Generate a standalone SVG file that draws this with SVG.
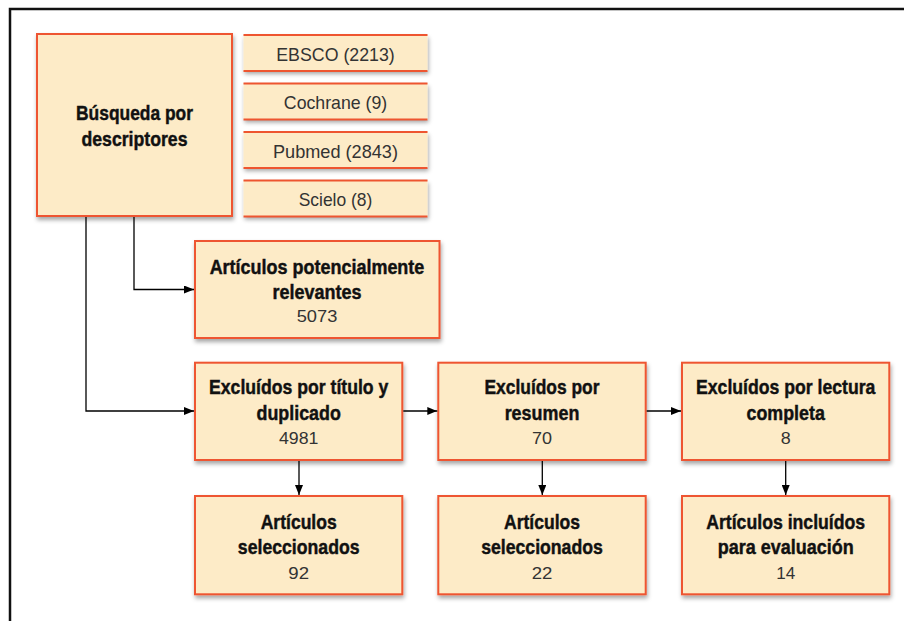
<svg xmlns="http://www.w3.org/2000/svg" width="904" height="621" viewBox="0 0 904 621">
<defs>
<filter id="sh" x="-10%" y="-10%" width="125%" height="130%">
<feDropShadow dx="1" dy="3" stdDeviation="2" flood-color="#000" flood-opacity="0.35"/>
</filter>
<marker id="ah" viewBox="0 0 10 8" refX="10" refY="4" markerWidth="10" markerHeight="8" markerUnits="userSpaceOnUse" orient="auto">
<path d="M0,0 L10,4 L0,8 Z" fill="#000"/>
</marker>
<style>
.box{fill:#FDEBC7;stroke:#EE5530;stroke-width:2;filter:url(#sh)}
.sbox{fill:#FDEBC7;filter:url(#sh)}
.edge{stroke:#EE5530;stroke-width:2}
.b{font-family:"Liberation Sans",Arial,sans-serif;font-weight:bold;font-size:20.5px;fill:#111;stroke:#111;stroke-width:0.45;text-anchor:middle}
.n{font-family:"Liberation Sans",Arial,sans-serif;font-size:17px;fill:#333;text-anchor:middle}
.s{font-size:18.5px}
.c{fill:none;stroke:#000;stroke-width:1.3}
</style>
</defs>
<rect width="904" height="621" fill="#fff"/>
<path d="M10,621 V9 H904" fill="none" stroke="#111" stroke-width="2.5"/>

<g id="busqueda">
<rect class="box" x="37" y="34" width="195" height="182"/>
<text class="b" x="134.5" y="120" textLength="117" lengthAdjust="spacingAndGlyphs">Búsqueda por</text>
<text class="b" x="134.5" y="145.5" textLength="106" lengthAdjust="spacingAndGlyphs">descriptores</text>
</g>

<g id="ebsco">
<rect class="sbox" x="243.5" y="34.5" width="184" height="36.5"/>
<line class="edge" x1="243.5" y1="35" x2="427.5" y2="35"/>
<line class="edge" x1="243.5" y1="71" x2="427.5" y2="71"/>
<text class="n s" x="335.5" y="60.5" textLength="118.5" lengthAdjust="spacingAndGlyphs">EBSCO (2213)</text>
</g>
<g id="cochrane">
<rect class="sbox" x="243.5" y="83" width="184" height="36.5"/>
<line class="edge" x1="243.5" y1="83.5" x2="427.5" y2="83.5"/>
<line class="edge" x1="243.5" y1="119.5" x2="427.5" y2="119.5"/>
<text class="n s" x="335.5" y="109.3" textLength="103.3" lengthAdjust="spacingAndGlyphs">Cochrane (9)</text>
</g>
<g id="pubmed">
<rect class="sbox" x="243.5" y="131.5" width="184" height="36.5"/>
<line class="edge" x1="243.5" y1="132" x2="427.5" y2="132"/>
<line class="edge" x1="243.5" y1="168" x2="427.5" y2="168"/>
<text class="n s" x="335.5" y="158" textLength="125" lengthAdjust="spacingAndGlyphs">Pubmed (2843)</text>
</g>
<g id="scielo">
<rect class="sbox" x="243.5" y="180" width="184" height="36.5"/>
<line class="edge" x1="243.5" y1="180.5" x2="427.5" y2="180.5"/>
<line class="edge" x1="243.5" y1="216.5" x2="427.5" y2="216.5"/>
<text class="n s" x="335.5" y="206" textLength="73.7" lengthAdjust="spacingAndGlyphs">Scielo (8)</text>
</g>

<g id="relevantes">
<rect class="box" x="195" y="241" width="244.5" height="97"/>
<text class="b" x="317" y="274.3" textLength="214.7" lengthAdjust="spacingAndGlyphs">Artículos potencialmente</text>
<text class="b" x="317" y="299.3" textLength="89" lengthAdjust="spacingAndGlyphs">relevantes</text>
<text class="n" x="317" y="322.3" textLength="40.6" lengthAdjust="spacingAndGlyphs">5073</text>
</g>

<g id="excl-titulo">
<rect class="box" x="195" y="362.7" width="207.3" height="97.3"/>
<text class="b" x="298.7" y="394.3" textLength="179.3" lengthAdjust="spacingAndGlyphs">Excluídos por título y</text>
<text class="b" x="298.7" y="420" textLength="84.3" lengthAdjust="spacingAndGlyphs">duplicado</text>
<text class="n" x="298.7" y="444.3" textLength="39.4" lengthAdjust="spacingAndGlyphs">4981</text>
</g>
<g id="excl-resumen">
<rect class="box" x="438.3" y="362.7" width="207.4" height="97.3"/>
<text class="b" x="542" y="394.3" textLength="115" lengthAdjust="spacingAndGlyphs">Excluídos por</text>
<text class="b" x="542" y="420" textLength="74.7" lengthAdjust="spacingAndGlyphs">resumen</text>
<text class="n" x="542" y="444.3" textLength="20" lengthAdjust="spacingAndGlyphs">70</text>
</g>
<g id="excl-lectura">
<rect class="box" x="682" y="362.7" width="207.3" height="97.3"/>
<text class="b" x="785.7" y="394.3" textLength="179.3" lengthAdjust="spacingAndGlyphs">Excluídos por lectura</text>
<text class="b" x="785.7" y="420" textLength="78.3" lengthAdjust="spacingAndGlyphs">completa</text>
<text class="n" x="785.7" y="444.3" textLength="10" lengthAdjust="spacingAndGlyphs">8</text>
</g>

<g id="sel-1">
<rect class="box" x="195" y="496" width="207.3" height="98.3"/>
<text class="b" x="298.7" y="529" textLength="76" lengthAdjust="spacingAndGlyphs">Artículos</text>
<text class="b" x="298.7" y="554.3" textLength="121.7" lengthAdjust="spacingAndGlyphs">seleccionados</text>
<text class="n" x="298.7" y="579" textLength="20.7" lengthAdjust="spacingAndGlyphs">92</text>
</g>
<g id="sel-2">
<rect class="box" x="438.3" y="496" width="207.4" height="98.3"/>
<text class="b" x="542" y="529" textLength="76" lengthAdjust="spacingAndGlyphs">Artículos</text>
<text class="b" x="542" y="554.3" textLength="121.7" lengthAdjust="spacingAndGlyphs">seleccionados</text>
<text class="n" x="542" y="579" textLength="20.7" lengthAdjust="spacingAndGlyphs">22</text>
</g>
<g id="incluidos">
<rect class="box" x="682" y="496" width="207.3" height="98.3"/>
<text class="b" x="785.7" y="529" textLength="159" lengthAdjust="spacingAndGlyphs">Artículos incluídos</text>
<text class="b" x="785.7" y="554.3" textLength="136" lengthAdjust="spacingAndGlyphs">para evaluación</text>
<text class="n" x="785.7" y="579" textLength="19" lengthAdjust="spacingAndGlyphs">14</text>
</g>

<g id="connectors">
<path class="c" d="M134,217 V289.5 H194" marker-end="url(#ah)"/>
<path class="c" d="M86,217 V411 H194" marker-end="url(#ah)"/>
<path class="c" d="M403.3,411 H437.3" marker-end="url(#ah)"/>
<path class="c" d="M646.7,411 H681" marker-end="url(#ah)"/>
<path class="c" d="M299,461 V495" marker-end="url(#ah)"/>
<path class="c" d="M542.3,461 V495" marker-end="url(#ah)"/>
<path class="c" d="M785.7,461 V495" marker-end="url(#ah)"/>
</g>
</svg>
